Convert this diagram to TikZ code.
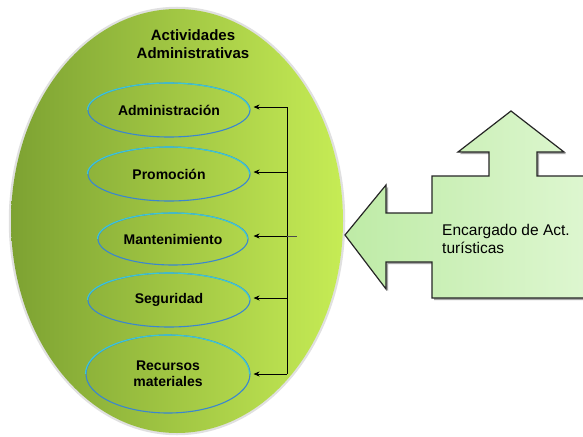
\documentclass[tikz,border=0pt]{standalone}
\usepackage{fontspec}
\setmainfont{Liberation Sans}
\usetikzlibrary{shapes.geometric,arrows.meta}
\definecolor{gdark}{HTML}{7DA232}
\definecolor{glight}{HTML}{C6EC55}
\definecolor{rimblue}{HTML}{3A86D0}
\definecolor{rimcyan}{HTML}{3CC8D8}
\definecolor{boxa}{HTML}{BEEBA6}
\definecolor{boxb}{HTML}{E2F8D6}
\tikzset{
  sub/.style={ellipse, draw=rimblue, line width=1.1pt, minimum width=162, minimum height=54,
    font=\bfseries\fontsize{14}{16}\selectfont, align=center, inner sep=0pt},
  arr/.style={-{Stealth[length=6pt,width=5pt]}, line width=0.8pt, black},
  bus/.style={line width=0.9pt, black},
  rimtop/.style={draw=rimcyan, line width=1.1pt},
}
\begin{document}
\begin{tikzpicture}[x=1pt,y=-1pt]
\clip (0,0) rectangle (583,436);
\fill[white] (0,0) rectangle (583,436);
% big ellipse with soft rim
\node[ellipse, draw=black!12, line width=2.5pt, minimum width=334, minimum height=426] at (177,221) {};
\node[ellipse, left color=gdark, right color=glight, minimum width=332, minimum height=424, inner sep=0pt] (big) at (177,221) {};
\node[font=\bfseries\fontsize{15}{18}\selectfont, align=center] (title) at (193,44) {Actividades\\Administrativas};
% sub ellipses
\node[sub] (adm) at (169,110) {Administración};
\node[sub] (pro) at (169,174) {Promoción};
\node[sub, minimum width=150, minimum height=52] (man) at (173,239) {Mantenimiento};
\node[sub] (seg) at (169,300) {Seguridad};
\node[sub, minimum width=164, minimum height=78] (rec) at (168,374) {Recursos\\materiales};
% cyan upper rims
\draw[rimtop] (adm.west) arc[start angle=180, end angle=0, x radius=81, y radius=-27];
\draw[rimtop] (pro.west) arc[start angle=180, end angle=0, x radius=81, y radius=-27];
\draw[rimtop] (man.west) arc[start angle=180, end angle=0, x radius=75, y radius=-26];
\draw[rimtop] (seg.west) arc[start angle=180, end angle=0, x radius=81, y radius=-27];
\draw[rimtop] (rec.west) arc[start angle=180, end angle=0, x radius=82, y radius=-39];
% bus line
\coordinate (ca) at (287,107);
\coordinate (cp) at (287,172);
\coordinate (cm) at (287,236);
\coordinate (cs) at (287,298);
\coordinate (cr) at (287,374);
\coordinate (cm2) at (297,236);
\draw[bus] (ca) -- (cr);
\draw[arr] (ca) -- ([xshift=3pt]ca -| adm.east);
\draw[arr] (cp) -- ([xshift=3pt]cp -| pro.east);
\draw[arr] (cm) -- ([xshift=3pt]cm -| adm.east);
\draw[arr] (cs) -- ([xshift=3pt]cs -| seg.east);
\draw[arr] (cr) -- ([xshift=3pt]cr -| rec.east);
\draw[line width=0.5pt, black!70] (cm) -- (cm2);
% right arrow shape
\fill[black!35] ([shift={(2,2)}]345,235) -- ++(41,-50) -- ++(0,28) -- ++(46,0) -- ++(0,-37) -- ++(57,0) -- ++(0,-24) -- ++(-31,0) -- ++(53,-41) -- ++(53,41) -- ++(-27,0) -- ++(0,24) -- ++(80,0) -- ++(0,122) -- ++(-185,0) -- ++(0,-36) -- ++(-46,0) -- ++(0,27) -- cycle;
\shade[left color=boxa, right color=boxb, draw=black!85, line width=1.2pt, line join=miter]
  (345,235) -- (386,185) -- (386,213) -- (432,213) -- (432,176) -- (489,176) -- (489,152) -- (458,152)
  -- (511,111) -- (564,152) -- (537,152) -- (537,176) -- (620,176) -- (620,298) -- (432,298)
  -- (432,262) -- (386,262) -- (386,289) -- cycle;
\node[anchor=west, align=left, font=\fontsize{15.5}{18}\selectfont, inner sep=0pt] (enc) at (442,239) {Encargado de Act.\\turísticas};
\end{tikzpicture}
\end{document}
